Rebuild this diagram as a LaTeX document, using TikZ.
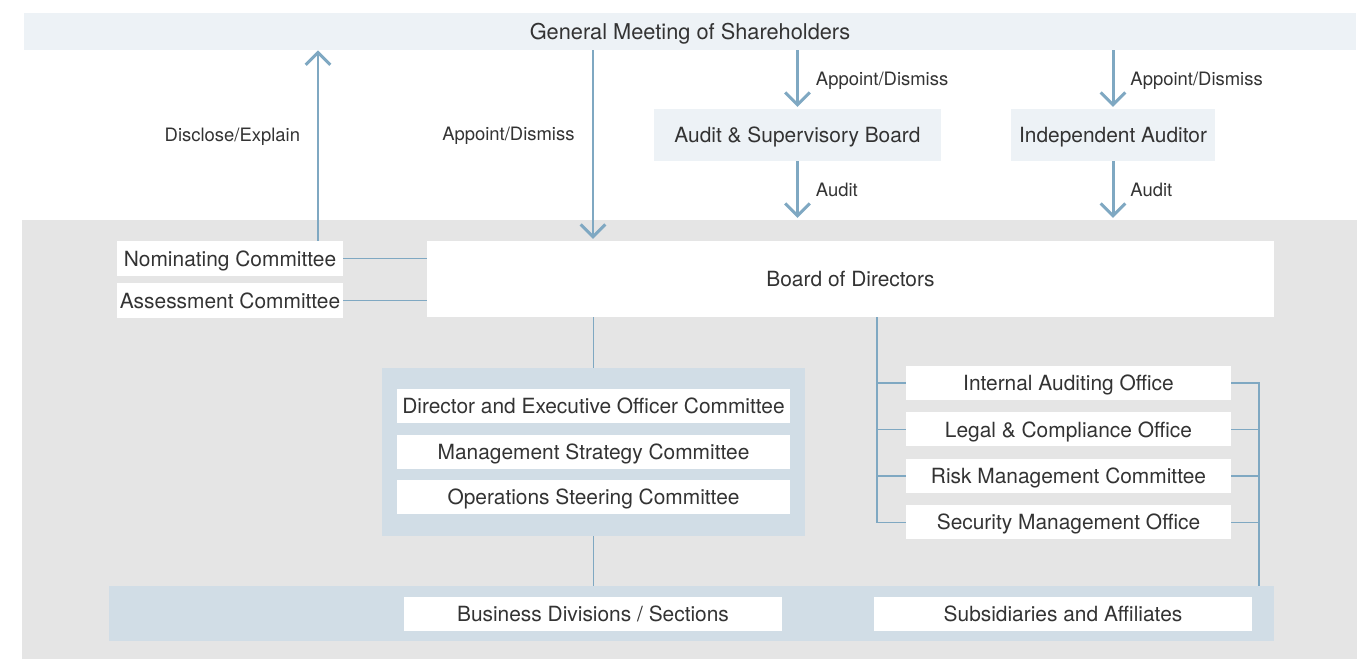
\documentclass[tikz,border=0pt]{standalone}
\usepackage{fontspec}
\setmainfont{TeX Gyre Heros}
\usetikzlibrary{arrows.meta,positioning}

\definecolor{topfill}{HTML}{EDF2F6}
\definecolor{greyfill}{HTML}{E5E5E5}
\definecolor{groupfill}{HTML}{D1DDE6}
\definecolor{linecol}{HTML}{7FA8C2}
\definecolor{textcol}{HTML}{333333}

\tikzset{
  box/.style={fill=white, inner sep=0pt, text=textcol, font=\fontsize{11.9}{13}\selectfont,
    text height=1.11em, text depth=0.25em},
  lightbox/.style={box, fill=topfill},
  arr/.style={draw=linecol, line width=1.7pt, -{Straight Barb[length=7pt,width=14pt,line width=1.7pt]}},
  link/.style={draw=linecol, line width=0.85pt},
  lbl/.style={text=textcol, font=\fontsize{10.5}{12}\selectfont, inner sep=0pt,
    text height=1.05em, text depth=0.25em}
}

\begin{document}
\begin{tikzpicture}[x=0.02cm,y=-0.02cm]
\useasboundingbox (0,0) rectangle (1357,659);

\node[fill=greyfill, minimum width=26.7cm, minimum height=8.78cm, inner sep=0pt] (lower) at (689.5,439.5) {};
\node[lightbox, minimum width=26.66cm, minimum height=0.74cm, font=\fontsize{12.4}{14}\selectfont] (gms) at (690,31.5) {General Meeting of Shareholders};
\node[lightbox, minimum width=5.74cm, minimum height=1.04cm] (asb) at (797.5,135) {Audit \& Supervisory Board};
\node[lightbox, minimum width=4.08cm, minimum height=1.04cm] (ia) at (1113,135) {Independent Auditor};

\node[box, minimum width=16.94cm, minimum height=1.52cm] (bod) at (850.5,279) {Board of Directors};
\node[box, minimum width=4.52cm, minimum height=0.7cm] (nom) at (230,258.5) {Nominating Committee};
\node[box, minimum width=4.52cm, minimum height=0.7cm] (ass) at (230,300.5) {Assessment Committee};

\node[fill=groupfill, minimum width=8.46cm, minimum height=3.36cm, inner sep=0pt] (grp) at (593.5,452) {};
\node[box, minimum width=7.86cm, minimum height=0.68cm] (dir) at (593.5,406) {Director and Executive Officer Committee};
\node[box, minimum width=7.86cm, minimum height=0.68cm, below=0.22cm of dir] (msc) {Management Strategy Committee};
\node[box, minimum width=7.86cm, minimum height=0.68cm, below=0.22cm of msc] (osc) {Operations Steering Committee};

\node[box, minimum width=6.5cm, minimum height=0.68cm] (iao) at (1068.5,383) {Internal Auditing Office};
\node[box, minimum width=6.5cm, minimum height=0.68cm, below=0.235cm of iao] (lco) {Legal \& Compliance Office};
\node[box, minimum width=6.5cm, minimum height=0.68cm, below=0.235cm of lco] (rmc) {Risk Management Committee};
\node[box, minimum width=6.5cm, minimum height=0.68cm, below=0.235cm of rmc] (smo) {Security Management Office};

\node[fill=groupfill, minimum width=23.3cm, minimum height=1.1cm, inner sep=0pt] (band) at (691.5,613.5) {};
\node[box, minimum width=7.56cm, minimum height=0.68cm] (bds) at (593,614) {Business Divisions / Sections};
\node[box, minimum width=7.56cm, minimum height=0.68cm] (saa) at (1063,614) {Subsidiaries and Affiliates};

% arrows
\coordinate (dx) at (318,0);
\coordinate (ax) at (593,0);
\draw[arr] (nom.north -| dx) -- node[lbl, pos=0.56, left=0.33cm] {Disclose/Explain} (gms.south -| dx);
\draw[arr] (gms.south -| ax) -- node[lbl, pos=0.44, left=0.34cm] {Appoint/Dismiss} ([yshift=1pt]bod.north -| ax);
\draw[arr] (gms.south -| asb) -- node[lbl, right=0.34cm] {Appoint/Dismiss} ([yshift=1pt]asb.north);
\draw[arr] (asb.south) -- node[lbl, right=0.34cm] {Audit} ([yshift=1pt]asb.south |- lower.north);
\draw[arr] (gms.south -| ia) -- node[lbl, right=0.32cm] {Appoint/Dismiss} ([yshift=1pt]ia.north);
\draw[arr] (ia.south) -- node[lbl, right=0.32cm] {Audit} ([yshift=1pt]ia.south |- lower.north);

% links
\draw[link] (nom) -- (nom -| bod.west);
\draw[link] (ass) -- (ass -| bod.west);
\draw[link] (bod.south -| grp.north) -- (grp.north);
\draw[link] (grp.south) -- (grp.south |- band.north);

\coordinate (lt) at (877,0);
\coordinate (rt) at (1259,0);
\draw[link] (bod.south -| lt) |- (smo.west);
\draw[link] (iao.east) -| (rt |- band.north);
\foreach \o in {iao,lco,rmc} {
  \draw[link] (lt |- \o.west) -- (\o.west);
}
\foreach \o in {lco,rmc,smo} {
  \draw[link] (\o.east) -- (rt |- \o.east);
}
\end{tikzpicture}
\end{document}
